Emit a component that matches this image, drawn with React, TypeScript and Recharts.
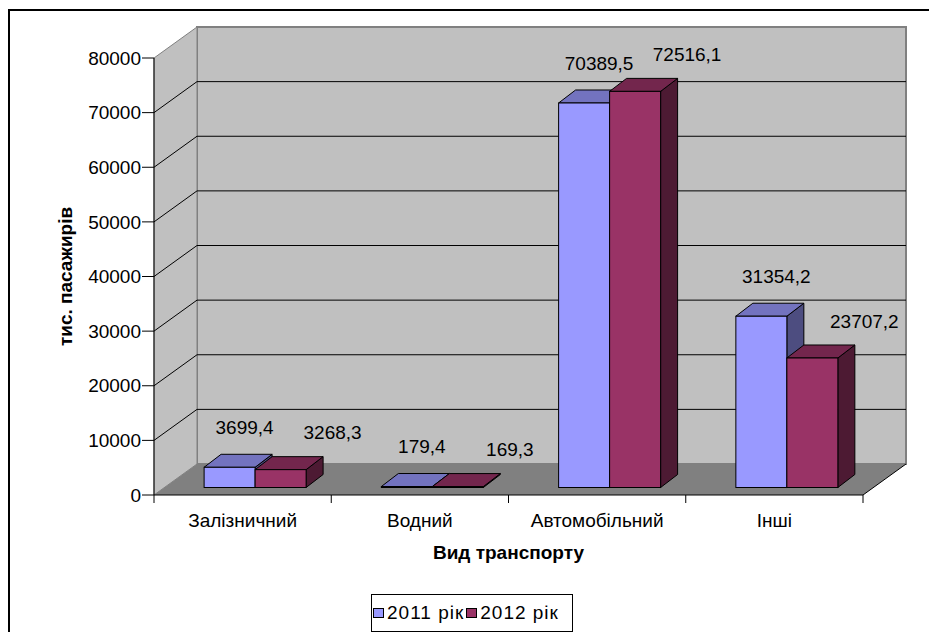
import React from 'react';
import { BarChart, Bar, XAxis, YAxis, CartesianGrid, LabelList, Legend } from 'recharts';

const categories = ['Залізничний', 'Водний', 'Автомобільний', 'Інші'];
const values2011 = [3699.4, 179.4, 70389.5, 31354.2];
const values2012 = [3268.3, 169.3, 72516.1, 23707.2];
const seriesNames = ['2011 рік', '2012 рік'];
const yTicks = [0, 10000, 20000, 30000, 40000, 50000, 60000, 70000, 80000];
const yTitle = 'тис. пасажирів';
const xTitle = 'Вид транспорту';

const data = categories.map((name, i) => ({ name, y2011: values2011[i], y2012: values2012[i] }));

const W = 929;
const H = 632;
const FONT = '"Liberation Sans", Arial, sans-serif';
const FS = 19;
const X_AXIS_H = 30;
const Y_AXIS_W = 60;
const MARGIN = { top: 58, right: 66, bottom: 137 - X_AXIS_H, left: 154 - Y_AXIS_W };
const PLOT_L = MARGIN.left + Y_AXIS_W;
const PLOT_R = W - MARGIN.right;
const PLOT_T = MARGIN.top;
const PLOT_B = H - MARGIN.bottom - X_AXIS_H;
const DX = 43; // wall depth
const DY = 31;
const BSX = 12; // bar position inside depth
const BSY = 7.5;
const BDX = 17; // bar depth
const BDY = 13;
const X_TICK = 8;
const X_TICK_MARGIN = 12;

const COLORS = [
  { front: '#9999FF', top: '#7373BF', side: '#4D4D80' },
  { front: '#993366', top: '#73264D', side: '#4D1A33' },
];
const LABEL_SHIFT = [
  { dx: 15, dy: 40 },
  { dx: 52, dy: 37 },
];

const fmt = (v: number) => v.toFixed(1).replace('.', ',');

const makeShape = (si: number) => (p: any) => {
  const { x, y, width, height } = p;
  if (x == null || y == null) return <g />;
  const c = COLORS[si];
  const X = x + BSX;
  const Y = y - BSY;
  const B = y + height - BSY;
  const R = X + width;
  return (
    <g>
      <polygon
        points={`${R},${Y} ${R + BDX},${Y - BDY} ${R + BDX},${B - BDY} ${R},${B}`}
        fill={c.side}
        stroke="#000"
        strokeWidth={1}
        strokeLinejoin="round"
      />
      <polygon
        points={`${X},${Y} ${X + BDX},${Y - BDY} ${R + BDX},${Y - BDY} ${R},${Y}`}
        fill={c.top}
        stroke="#000"
        strokeWidth={1}
        strokeLinejoin="round"
      />
      <rect x={X} y={Y} width={width} height={Math.max(height, 0)} fill={c.front} stroke="#000" strokeWidth={1} />
    </g>
  );
};

const makeLabel = (si: number) => (p: any) => {
  const { x, y, width, value } = p;
  if (x == null || y == null) return null;
  const s = LABEL_SHIFT[si];
  const cx = x + BSX + width / 2 + s.dx;
  const cy = y - BSY - s.dy;
  return (
    <text x={cx} y={cy} dy="0.35em" textAnchor="middle" fontFamily={FONT} fontSize={FS} fill="#000">
      {fmt(Number(value))}
    </text>
  );
};

const GridLine = (p: any) => {
  const { x1, x2, y1 } = p;
  if (y1 == null || y1 < PLOT_T + 2 || y1 > PLOT_B - 2) return <g key={p.key} />;
  return (
    <g key={p.key}>
      <line x1={x1 + DX} x2={x2 + DX} y1={y1 - DY} y2={y1 - DY} stroke="#000" strokeWidth={1} />
      <line x1={x1} x2={x1 + DX} y1={y1} y2={y1 - DY} stroke="#000" strokeWidth={1} />
    </g>
  );
};

const CatTick = (p: any) => {
  const { x, y, payload, index } = p;
  const half = payload && payload.offset ? payload.offset : (PLOT_R - PLOT_L) / categories.length / 2;
  const axisY = y - X_TICK - X_TICK_MARGIN;
  return (
    <g>
      <line x1={x - half} x2={x - half} y1={axisY} y2={axisY + X_TICK} stroke="#000" />
      {index === categories.length - 1 && (
        <line x1={x + half} x2={x + half} y1={axisY} y2={axisY + X_TICK} stroke="#000" />
      )}
      <text x={x} y={y + 12} textAnchor="middle" fontFamily={FONT} fontSize={FS} fill="#000">
        {payload.value}
      </text>
    </g>
  );
};

const YTitle = (p: any) => {
  const vb = p.viewBox || {};
  const cy = (vb.y ?? PLOT_T) + (vb.height ?? PLOT_B - PLOT_T) / 2;
  const cx = 65;
  return (
    <text
      x={cx}
      y={cy}
      dy="0.35em"
      transform={`rotate(-90 ${cx} ${cy})`}
      textAnchor="middle"
      fontFamily={FONT}
      fontSize={FS}
      fontWeight="bold"
      fill="#000"
    >
      {yTitle}
    </text>
  );
};

const XTitle = (p: any) => {
  const vb = p.viewBox || {};
  const cx = (vb.x ?? PLOT_L) + (vb.width ?? PLOT_R - PLOT_L) / 2;
  const by = (vb.y ?? PLOT_B) + 64;
  return (
    <text x={cx} y={by} textAnchor="middle" fontFamily={FONT} fontSize={FS} fontWeight="bold" fill="#000">
      {xTitle}
    </text>
  );
};

const renderLegend = () => (
  <div
    style={{
      display: 'flex',
      alignItems: 'center',
      height: '100%',
      fontFamily: FONT,
      fontSize: FS,
      color: '#000',
      paddingLeft: 1,
      boxSizing: 'border-box',
      whiteSpace: 'nowrap',
    }}
  >
    {seriesNames.map((n, i) => (
      <span key={n} style={{ display: 'flex', alignItems: 'center', marginRight: i === 0 ? 2 : 0 }}>
        <span
          style={{
            display: 'inline-block',
            width: 11,
            height: 10,
            background: COLORS[i].front,
            border: '1px solid #000',
            boxSizing: 'border-box',
            marginRight: 3,
          }}
        />
        <span style={{ letterSpacing: 1 }}>{n}</span>
      </span>
    ))}
  </div>
);

const Walls = () => (
  <svg width={W} height={H} style={{ position: 'absolute', left: 0, top: 0 }}>
    <rect x={0} y={0} width={W} height={H} fill="#fff" />
    <rect x={9} y={10} width={1000} height={800} fill="#fff" stroke="#000" strokeWidth={2} />
    <rect
      x={PLOT_L + DX}
      y={PLOT_T - DY}
      width={PLOT_R - PLOT_L}
      height={PLOT_B - PLOT_T}
      fill="#C0C0C0"
      stroke="#808080"
      strokeWidth={2}
    />
    <polygon
      points={`${PLOT_L},${PLOT_T} ${PLOT_L + DX},${PLOT_T - DY} ${PLOT_L + DX},${PLOT_B - DY} ${PLOT_L},${PLOT_B}`}
      fill="#C0C0C0"
      stroke="#808080"
      strokeWidth={1}
    />
    <polygon
      points={`${PLOT_L},${PLOT_B} ${PLOT_L + DX},${PLOT_B - DY} ${PLOT_R + DX},${PLOT_B - DY} ${PLOT_R},${PLOT_B}`}
      fill="#808080"
    />
    <line x1={PLOT_R} y1={PLOT_B} x2={PLOT_R + DX} y2={PLOT_B - DY} stroke="#000" strokeWidth={1} />
  </svg>
);

export default function App() {
  return (
    <div style={{ position: 'absolute', left: 0, top: 0, width: W, height: H, background: '#fff' }}>
      <Walls />
      <div style={{ position: 'absolute', left: 0, top: 0 }}>
        <BarChart
          width={W}
          height={H}
          data={data}
          margin={MARGIN}
          barCategoryGap="21.5%"
          barGap={0}
        >
          <CartesianGrid vertical={false} horizontal={GridLine as any} />
          <XAxis
            dataKey="name"
            height={X_AXIS_H}
            axisLine={{ stroke: '#000', strokeWidth: 1 }}
            tickLine={false}
            tickSize={X_TICK}
            tickMargin={X_TICK_MARGIN}
            tick={CatTick}
            interval={0}
            label={{ content: XTitle } as any}
          />
          <YAxis
            width={Y_AXIS_W}
            domain={[0, 80000]}
            ticks={yTicks}
            interval={0}
            allowDataOverflow
            axisLine={{ stroke: '#000', strokeWidth: 1 }}
            tickLine={{ stroke: '#000', strokeWidth: 1 }}
            tickSize={12}
            tickMargin={1}
            tick={{ fill: '#000', fontSize: FS, fontFamily: FONT }}
            label={{ content: YTitle } as any}
          />
          <Legend
            layout="horizontal"
            verticalAlign="middle"
            align="center"
            content={renderLegend}
            wrapperStyle={{
              left: 371,
              top: 594,
              width: 202,
              height: 38,
              border: '1px solid #000',
              boxSizing: 'border-box',
              background: '#fff',
            }}
          />
          <Bar dataKey="y2011" name={seriesNames[0]} fill={COLORS[0].front} shape={makeShape(0)} isAnimationActive={false}>
            <LabelList dataKey="y2011" content={makeLabel(0)} />
          </Bar>
          <Bar dataKey="y2012" name={seriesNames[1]} fill={COLORS[1].front} shape={makeShape(1)} isAnimationActive={false}>
            <LabelList dataKey="y2012" content={makeLabel(1)} />
          </Bar>
        </BarChart>
      </div>
    </div>
  );
}
